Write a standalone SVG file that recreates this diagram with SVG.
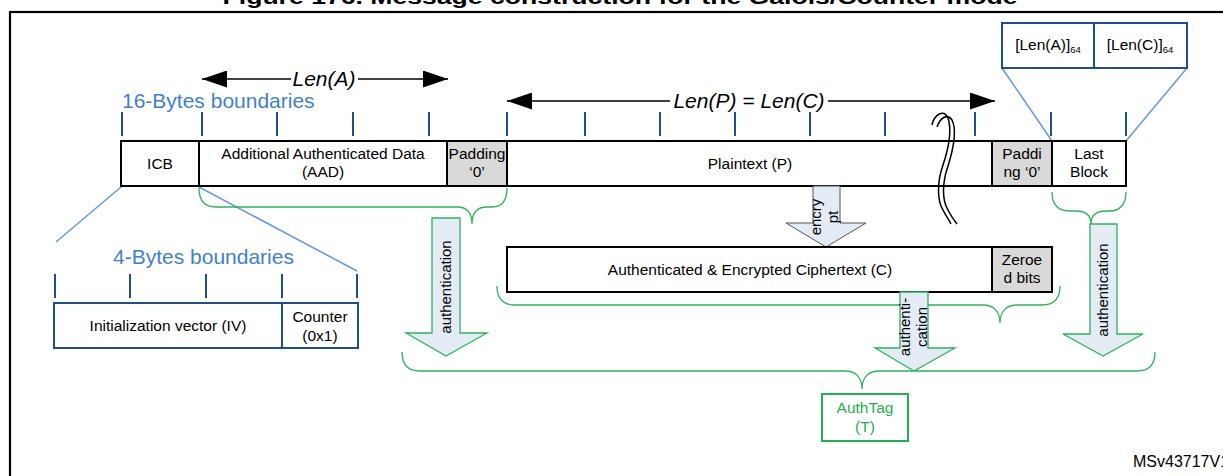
<svg xmlns="http://www.w3.org/2000/svg" width="1223" height="476" viewBox="0 0 1223 476">
<style>
text{font-family:"Liberation Sans",Arial,sans-serif;fill:#000}
.t{font-size:15.5px;text-anchor:middle}
.blue{fill:#3f7fd0;font-size:21px}
.len{font-size:21px;font-style:italic;text-anchor:middle}
.box{fill:#fff;stroke:#000;stroke-width:2}
.pad{fill:#d9d9d9;stroke:#000;stroke-width:2}
.bbox{fill:#fff;stroke:#1f4e8c;stroke-width:2}
.tick{stroke:#1f4e8c;stroke-width:2}
.lb{stroke:#6a9bd8;stroke-width:1.6;fill:none}
.brace{fill:none;stroke:#2db35a;stroke-width:1.3}
.garrow{fill:#e3ebf5;stroke:#2db35a;stroke-width:1.3}
.earrow{fill:#e3ebf5;stroke:#555;stroke-width:1}
.rt{font-size:15px;text-anchor:middle}
.sq{fill:none;stroke:#000;stroke-width:1.5}
</style>
<defs>
<marker id="ah" markerWidth="25" markerHeight="17" refX="25" refY="8.5" orient="auto" markerUnits="userSpaceOnUse">
<path d="M0,0 L25,8.5 L0,17 Z" fill="#000"/>
</marker>
</defs>
<rect x="10" y="12" width="1240" height="500" fill="#fff" stroke="#000" stroke-width="2.2"/>
<text x="620" y="4" font-size="20" font-weight="bold" text-anchor="middle" textLength="795" lengthAdjust="spacingAndGlyphs">Figure 176. Message construction for the Galois/Counter mode</text>

<g id="labels">
<text class="blue" x="122" y="108">16-Bytes boundaries</text>
<text class="blue" x="113" y="264">4-Bytes boundaries</text>
<text class="len" x="324" y="86">Len(A)</text>
<text class="len" x="749" y="108">Len(P) = Len(C)</text>
<text x="1133" y="467" font-size="16">MSv43717V1</text>
</g>

<g id="connectors">
<line x1="291" y1="79" x2="202" y2="79" stroke="#000" stroke-width="1.6" marker-end="url(#ah)"/>
<line x1="358" y1="79" x2="448" y2="79" stroke="#000" stroke-width="1.6" marker-end="url(#ah)"/>
<line x1="670" y1="101" x2="507" y2="101" stroke="#000" stroke-width="1.6" marker-end="url(#ah)"/>
<line x1="828" y1="101" x2="995" y2="101" stroke="#000" stroke-width="1.6" marker-end="url(#ah)"/>
<g class="tick">
<line x1="122" y1="112" x2="122" y2="136"/><line x1="202" y1="112" x2="202" y2="136"/><line x1="277" y1="112" x2="277" y2="136"/><line x1="353" y1="112" x2="353" y2="136"/><line x1="429" y1="112" x2="429" y2="136"/><line x1="507" y1="112" x2="507" y2="136"/><line x1="585" y1="112" x2="585" y2="136"/><line x1="660" y1="112" x2="660" y2="136"/><line x1="735" y1="112" x2="735" y2="136"/><line x1="810" y1="112" x2="810" y2="136"/><line x1="885" y1="112" x2="885" y2="136"/><line x1="975" y1="112" x2="975" y2="136"/><line x1="1051" y1="112" x2="1051" y2="136"/><line x1="1126" y1="112" x2="1126" y2="136"/>
<line x1="55" y1="274" x2="55" y2="298"/><line x1="130" y1="274" x2="130" y2="298"/><line x1="206" y1="274" x2="206" y2="298"/><line x1="282" y1="274" x2="282" y2="298"/><line x1="357" y1="274" x2="357" y2="298"/>
</g>
<line class="lb" x1="121" y1="187" x2="56" y2="242"/>
<line class="lb" x1="199" y1="187" x2="357" y2="271"/>
<line class="lb" x1="1002" y1="68" x2="1052" y2="141"/>
<line class="lb" x1="1187" y1="68" x2="1126" y2="141"/>
<path class="brace" d="M199,188 C199,200 204,207 216,207 L457,207 C467,207 472,213 472,224 C472,213 477,207 487,207 L492,207 C502,207 507,200 507,188"/>
<path class="brace" d="M1052,192 C1052,204 1058,211 1070,211 L1076,211 C1086,211 1091,216 1091,224 C1091,216 1096,211 1106,211 L1110,211 C1120,211 1126,204 1126,192"/>
<path class="brace" d="M497,286 C497,298 503,305 515,305 L983,305 C994,305 1000,312 1000,323 C1000,312 1006,305 1017,305 L1042,305 C1054,305 1060,298 1060,286"/>
<path class="brace" d="M402,352 C402,364 408,371 420,371 L845,371 C856,371 862,378 862,389 C862,378 868,371 879,371 L1137,371 C1149,371 1155,364 1155,352"/>
</g>

<g id="icb"><rect class="box" x="121" y="141" width="78" height="45"/><text class="t" x="160" y="169">ICB</text></g>
<g id="aad"><rect class="box" x="199" y="141" width="248" height="45"/><text class="t" x="323" y="159">Additional Authenticated Data</text><text class="t" x="323" y="177">(AAD)</text></g>
<g id="padding1"><rect class="pad" x="447" y="141" width="60" height="45"/><text class="t" x="477" y="159">Padding</text><text class="t" x="477" y="177">‘0’</text></g>
<g id="plaintext"><rect class="box" x="507" y="141" width="485" height="45"/><text class="t" x="750" y="169">Plaintext (P)</text></g>
<g id="padding2"><rect class="pad" x="992" y="141" width="60" height="45"/><text class="t" x="1022" y="159">Paddi</text><text class="t" x="1022" y="177">ng ‘0’</text></g>
<g id="lastblock"><rect class="box" x="1052" y="141" width="74" height="45"/><text class="t" x="1089" y="159">Last</text><text class="t" x="1089" y="177">Block</text></g>

<g id="squiggle">
<path class="sq" d="M932,125 C934,115 944,108 948,118 C952,130 948,150 943,165 C937,182 937,200 943,210 C946,216 949,220 951,224"/>
<path class="sq" d="M937,127 C940,118 947,113 952,120 C957,130 953,150 948,166 C942,183 942,200 948,210 C951,216 954,220 957,224"/>
</g>

<g id="lenbox">
<rect class="bbox" x="1002" y="23" width="92" height="45"/><rect class="bbox" x="1094" y="23" width="93" height="45"/>
<text x="1048" y="50" font-size="15.5" text-anchor="middle">[Len(A)]<tspan font-size="9.5" dy="3">64</tspan></text>
<text x="1140" y="50" font-size="15.5" text-anchor="middle">[Len(C)]<tspan font-size="9.5" dy="3">64</tspan></text>
</g>

<g id="ivbox">
<rect class="bbox" x="54" y="303" width="228" height="45"/><rect class="bbox" x="282" y="303" width="76" height="45"/>
<text class="t" x="168" y="331">Initialization vector (IV)</text>
<text class="t" x="320" y="322">Counter</text><text class="t" x="320" y="341">(0x1)</text>
</g>

<g id="encrypt">
<polygon class="earrow" points="813,186 840,186 840,223 866,223 826,247 786,223 813,223"/>
<text class="rt" transform="translate(826,217) rotate(-90)"><tspan x="0" y="-5">encry</tspan><tspan x="0" y="12">pt</tspan></text>
</g>

<g id="ciphertext"><rect class="box" x="507" y="247" width="485" height="45"/><text class="t" x="750" y="275">Authenticated &amp; Encrypted Ciphertext (C)</text></g>
<g id="zeroed"><rect class="pad" x="992" y="247" width="60" height="45"/><text class="t" x="1022" y="265">Zeroe</text><text class="t" x="1022" y="283">d bits</text></g>

<g id="auth1">
<polygon class="garrow" points="432,218 460,218 460,333 487,333 446,356 406,333 432,333"/>
<text class="rt" transform="translate(446,287) rotate(-90)" x="0" y="5">authentication</text>
</g>
<g id="auth2">
<polygon class="garrow" points="900,292 928,292 928,348 955,348 914,371 875,348 900,348"/>
<text class="rt" transform="translate(914,327) rotate(-90)"><tspan x="0" y="-4">authenti-</tspan><tspan x="0" y="13">cation</tspan></text>
</g>
<g id="auth3">
<polygon class="garrow" points="1090,224 1117,224 1117,334 1143,334 1103,356 1063,334 1090,334"/>
<text class="rt" transform="translate(1103,290) rotate(-90)" x="0" y="5">authentication</text>
</g>

<g id="authtag">
<rect x="822" y="394" width="86" height="47" fill="#fff" stroke="#22b14c" stroke-width="2"/>
<text x="865" y="413" font-size="15.5" text-anchor="middle" style="fill:#22b14c">AuthTag</text>
<text x="865" y="432" font-size="15.5" text-anchor="middle" style="fill:#22b14c">(T)</text>
</g>
</svg>
